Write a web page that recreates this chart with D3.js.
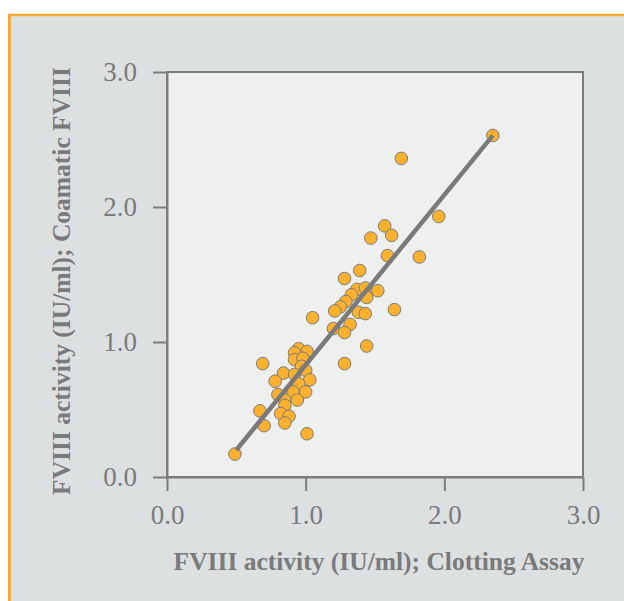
<!DOCTYPE html>
<html>
<head>
<meta charset="utf-8">
<script src="https://cdn.jsdelivr.net/npm/d3@7"></script>
<style>
  html, body { margin: 0; padding: 0; background: #ffffff; }
  svg { display: block; }
</style>
</head>
<body>
<svg id="chart" width="624" height="601"></svg>
<script>
// ---- Data ----
const clottingAssay = [2.35, 1.69, 1.96, 1.57, 1.62, 1.47, 1.59, 1.82, 1.39, 1.28,
  1.52, 1.37, 1.43, 1.33, 1.44, 1.29, 1.25, 1.21, 1.38, 1.43,
  1.64, 1.05, 1.32, 1.20, 1.28, 1.44, 0.95, 1.01, 0.92, 0.92,
  0.98, 0.69, 1.28, 0.84, 0.78, 0.97, 1.00, 0.92, 1.03, 0.95,
  0.91, 1.00, 0.80, 0.85, 0.94, 0.85, 0.67, 0.82, 0.88, 0.85,
  0.70, 1.01, 0.49];
const coamatic = [2.53, 2.36, 1.93, 1.86, 1.79, 1.77, 1.64, 1.63, 1.53, 1.47,
  1.38, 1.39, 1.40, 1.35, 1.33, 1.30, 1.26, 1.23, 1.22, 1.21,
  1.24, 1.18, 1.13, 1.10, 1.07, 0.97, 0.95, 0.93, 0.92, 0.87,
  0.88, 0.84, 0.84, 0.77, 0.71, 0.82, 0.79, 0.76, 0.72, 0.69,
  0.63, 0.63, 0.61, 0.57, 0.57, 0.53, 0.49, 0.47, 0.45, 0.40,
  0.38, 0.32, 0.17];
const fitX = [0.50, 2.35];
const fitY = [0.20, 2.53];
const tickValues = [0, 1, 2, 3];
const xTitle = "FVIII activity (IU/ml); Clotting Assay";
const yTitle = "FVIII activity (IU/ml); Coamatic FVIII";

// ---- Layout ----
const W = 624, H = 601;
const plot = { left: 167, right: 583, top: 72, bottom: 477 };
const grey = "#7c7c7c";
const font = "'Liberation Serif', 'Times New Roman', serif";

const svg = d3.select("#chart");

// panel background with orange top/left border
svg.append("rect").attr("x", 8).attr("y", 14).attr("width", W - 8).attr("height", H - 14)
  .attr("fill", "#dde0e1");
svg.append("line").attr("x1", 9.5).attr("x2", 9.5).attr("y1", 14).attr("y2", H)
  .attr("stroke", "#f8ab2f").attr("stroke-width", 3);
svg.append("line").attr("x1", 8).attr("x2", W).attr("y1", 15).attr("y2", 15)
  .attr("stroke", "#f8ab2f").attr("stroke-width", 2.5);

const x = d3.scaleLinear().domain([0, 3]).range([plot.left, plot.right]);
const y = d3.scaleLinear().domain([0, 3]).range([plot.bottom, plot.top]);

// plot area
svg.append("rect")
  .attr("x", plot.left).attr("y", plot.top)
  .attr("width", plot.right - plot.left).attr("height", plot.bottom - plot.top)
  .attr("fill", "#eef0ef").attr("stroke", grey).attr("stroke-width", 2);

// axes
const xAxis = d3.axisBottom(x).tickValues(tickValues).tickFormat(d3.format(".1f"))
  .tickSize(14).tickSizeOuter(0).tickPadding(14);
const yAxis = d3.axisLeft(y).tickValues(tickValues).tickFormat(d3.format(".1f"))
  .tickSize(14).tickSizeOuter(0).tickPadding(16);

const gx = svg.append("g").attr("transform", `translate(0,${plot.bottom})`).call(xAxis);
const gy = svg.append("g").attr("transform", `translate(${plot.left},0)`).call(yAxis);
[gx, gy].forEach(g => {
  g.select(".domain").attr("stroke", grey).attr("stroke-width", 2);
  g.selectAll(".tick line").attr("stroke", grey).attr("stroke-width", 2);
  g.selectAll(".tick text").attr("fill", "#7a7a7a")
    .style("font-family", font).style("font-size", "27px");
});
gy.selectAll(".tick text").attr("dy", "0.33em");

// points
const pts = clottingAssay.map((v, i) => ({ x: v, y: coamatic[i] }));
svg.append("g").selectAll("circle").data(pts).join("circle")
  .attr("cx", d => x(d.x)).attr("cy", d => y(d.y)).attr("r", 6.3)
  .attr("fill", "#fdb12f").attr("stroke", "#7a7a7a").attr("stroke-width", 1);

// regression line
svg.append("line")
  .attr("x1", x(fitX[0])).attr("y1", y(fitY[0]))
  .attr("x2", x(fitX[1])).attr("y2", y(fitY[1]))
  .attr("stroke", "#7a7a7a").attr("stroke-width", 4.5);

// axis titles
svg.append("text").attr("x", 379).attr("y", 570).attr("text-anchor", "middle")
  .attr("fill", "#7a7a7a").style("font-family", font).style("font-weight", "bold")
  .style("font-size", "25.5px").text(xTitle);
svg.append("text").attr("transform", "translate(70,281) rotate(-90)")
  .attr("text-anchor", "middle")
  .attr("fill", "#7a7a7a").style("font-family", font).style("font-weight", "bold")
  .style("font-size", "25.5px").text(yTitle);
</script>
</body>
</html>
